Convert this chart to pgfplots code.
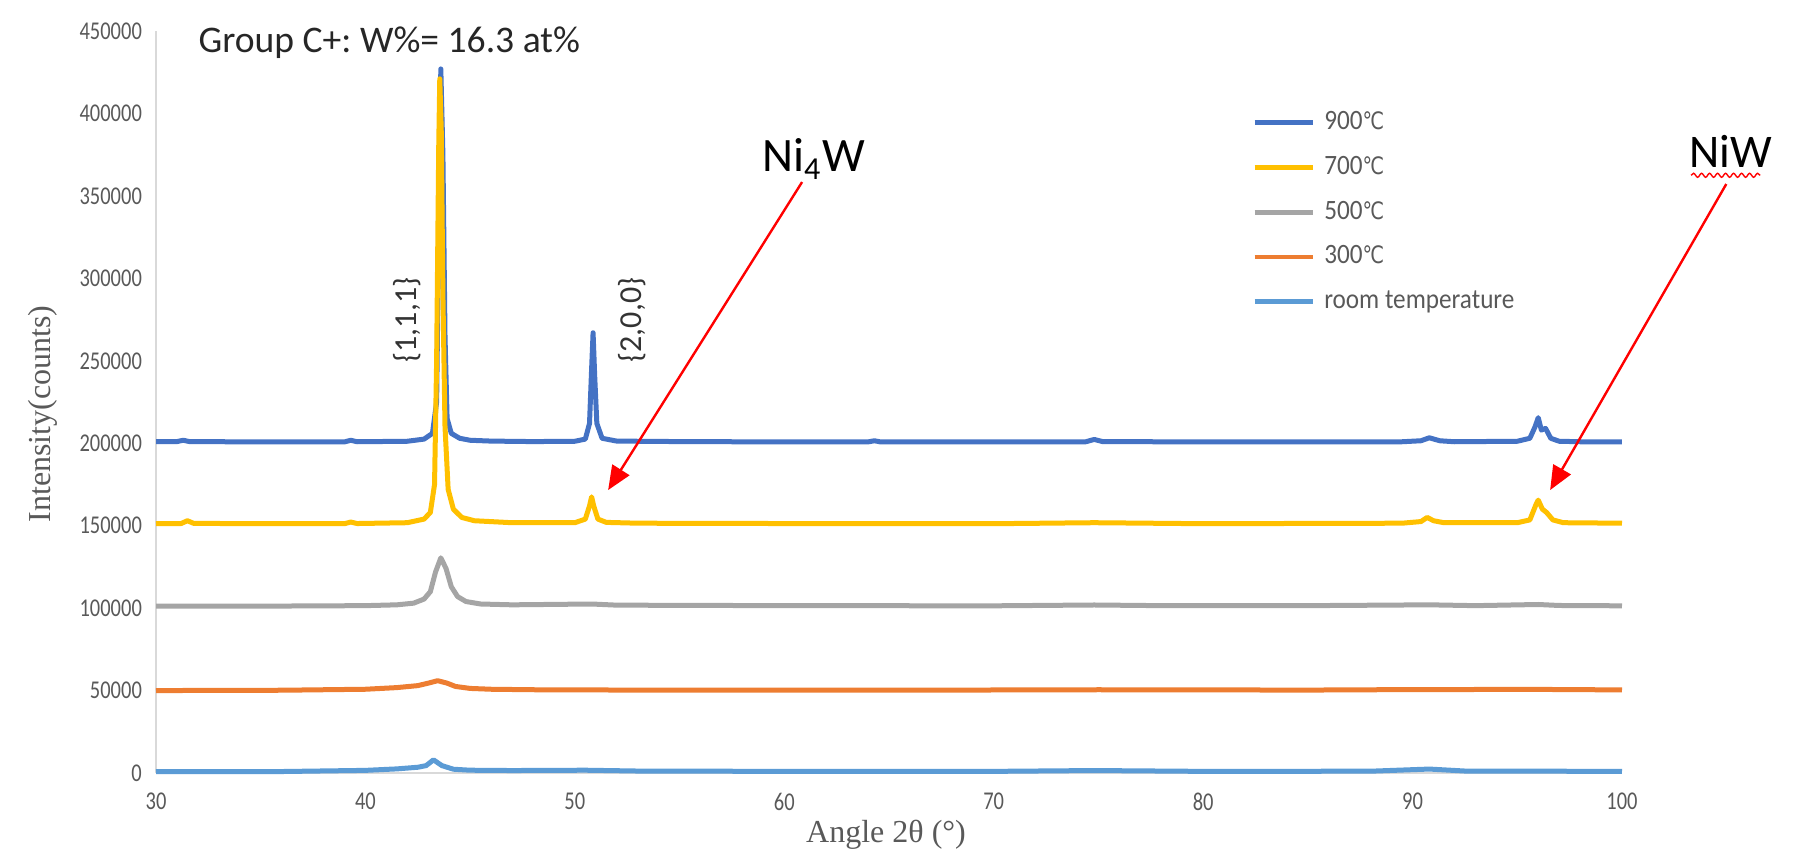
\documentclass[border=0pt]{standalone}
\usepackage{pgfplots}
\pgfplotsset{compat=1.18}
\usepackage{fontspec}
\setmainfont{Carlito}
\newfontfamily\seriffont{Liberation Serif}
\newfontfamily\tickfont[FakeStretch=0.8]{Carlito}
\newfontfamily\legfont[FakeStretch=0.9]{Carlito}
\newfontfamily\djv[FakeStretch=0.8]{DejaVu Sans}
\usetikzlibrary{arrows.meta,decorations.pathmorphing}
\definecolor{cNineH}{HTML}{4472C4}
\definecolor{cSevenH}{HTML}{FFC000}
\definecolor{cFiveH}{HTML}{A5A5A5}
\definecolor{cThreeH}{HTML}{ED7D31}
\definecolor{cRT}{HTML}{5B9BD5}
\definecolor{tickgray}{HTML}{595959}
\definecolor{axgray}{HTML}{D9D9D9}
\frenchspacing
\begin{document}
\begin{tikzpicture}
\useasboundingbox (-39pt,-18.75pt) rectangle (412.25pt,193.25pt);
\begin{axis}[
  scale only axis,
  width=366.5pt, height=185.5pt,
  xmin=30, xmax=100, ymin=0, ymax=450000,
  xtick={30,40,...,100},
  ytick={0,50000,...,450000},
  scaled y ticks=false,
  axis lines=left,
  axis line style={-, draw=axgray, line width=0.5pt},
  major tick length=0pt,
  clip=false,
  /pgf/number format/.cd, fixed, 1000 sep={}, assume math mode=true,
  /pgfplots/.cd,
  ticklabel style={font=\tickfont\fontsize{6.4}{7}\selectfont, text=tickgray},
  xticklabel style={yshift=-1.4pt},
  xlabel={\seriffont Angle 2θ (°)},
  ylabel={\seriffont Intensity(counts)},
  xlabel style={at={(axis description cs:0.498,-0.0836)}, anchor=center, font=\fontsize{8}{9}\selectfont, text=tickgray},
  ylabel style={at={(axis description cs:-0.0771,0.484)}, anchor=center, font=\fontsize{8}{9}\selectfont, text=tickgray},
  legend style={at={(axis description cs:0.739,0.906)}, anchor=north west, draw=none, fill=none,
    font=\legfont\fontsize{7}{8}\selectfont, text=tickgray, row sep=4.7pt,
    nodes={inner sep=0pt, text height=5pt, text depth=1.5pt}},
  legend cell align=left,
  legend image code/.code={\draw[#1, line width=1.2pt] (0pt,0pt) -- (14.5pt,0pt); \path (16.8pt,0pt);},
  every axis plot/.append style={line width=1.25pt, line join=round},
]
\addplot[cNineH, mark=none] coordinates {
(30,201000) (31.0,201000) (31.3,201800) (31.6,201000) (35,200800) (39.0,200800) (39.3,201800) (39.6,200900)
(42.0,201200) (42.8,202500) (43.2,206000) (43.4,225000) (43.5,330000) (43.6,427000) (43.7,375000) (43.8,265000)
(43.9,215000) (44.1,206000) (44.5,203000) (45.0,201800) (46,201300) (48,201000) (50.0,201200) (50.5,202500)
(50.7,212000) (50.8,245000) (50.87,267000) (50.95,240000) (51.05,212000) (51.3,203000) (52,201300) (55,201000)
(60,200800) (64.0,200800) (64.3,201500) (64.6,200800) (70,200800) (74.4,200900) (74.8,202300) (75.2,201000)
(80,200800) (85,200800) (89.5,200900) (90.4,201500) (90.8,203300) (91.3,201500) (92,200900) (95.0,201200)
(95.6,203000) (95.85,210000) (96.0,215500) (96.15,208000) (96.35,209000) (96.6,203000) (97.0,201200) (98,200900) (100,200900)
};
\addlegendentry{900{\djv\fontsize{6}{7}\selectfont ℃}}
\addplot[cSevenH, mark=none] coordinates {
(30,151200) (31.2,151300) (31.5,153000) (31.8,151400) (35,151200) (39.0,151200) (39.3,152200) (39.6,151300)
(42.0,151800) (42.8,154000) (43.1,158000) (43.3,175000) (43.4,250000) (43.5,380000) (43.55,421000) (43.62,390000) (43.7,290000)
(43.8,210000) (43.95,172000) (44.2,160000) (44.6,155000) (45.2,153000) (47,151800) (50.0,151800) (50.5,154000)
(50.7,162000) (50.8,167500) (50.9,162000) (51.1,154000) (51.5,152000) (53,151500) (60,151300) (70,151200)
(74.8,151800) (80,151200) (89.5,151500) (90.4,152500) (90.7,155000) (91.0,153000) (91.5,151800) (95.0,151800)
(95.6,153500) (95.9,163000) (96.0,165500) (96.2,160000) (96.4,158000) (96.7,153500) (97.2,151800) (100,151500)
};
\addlegendentry{700{\djv\fontsize{6}{7}\selectfont ℃}}
\addplot[cFiveH, mark=none] coordinates {
(30,101200) (35,101200) (40,101500) (41.5,102000) (42.3,103000) (42.8,105500) (43.1,110000) (43.35,122000)
(43.6,130500) (43.85,124000) (44.1,113000) (44.4,107000) (44.8,104000) (45.5,102500) (47,102000) (50.8,102500)
(52,101800) (60,101500) (70,101400) (74.8,101900) (78,101500) (85,101500) (90.8,102000) (93,101500)
(96.0,102200) (97,101600) (100,101400)
};
\addlegendentry{500{\djv\fontsize{6}{7}\selectfont ℃}}
\addplot[cThreeH, mark=none] coordinates {
(30,50000) (36,50200) (40,50800) (41.5,51800) (42.5,53000) (43.0,54500) (43.45,56000) (43.9,54500)
(44.3,52500) (45.0,51300) (46,50800) (48,50500) (55,50200) (65,50200) (75,50500) (85,50300)
(90,50600) (96,50700) (100,50400)
};
\addlegendentry{300{\djv\fontsize{6}{7}\selectfont ℃}}
\addplot[cRT, mark=none] coordinates {
(30,800) (36,900) (40,1600) (41.5,2500) (42.5,3500) (42.9,4500) (43.25,8000) (43.65,4500)
(44.2,2300) (45,1700) (47,1500) (50.5,1700) (53,1200) (60,1000) (70,1000) (74.8,1500)
(80,1000) (88,1100) (90.8,2400) (92.5,1200) (100,1000)
};
\addlegendentry{room temperature}

\node[anchor=west, inner sep=0pt, font=\fontsize{9.4}{11}\selectfont, text=black!85] at (axis cs:32.0,443000) {Group C+: W\%= 16.3 at\%};
\node[rotate=90, font=\fontsize{8}{9}\selectfont, text=black!80] at (axis cs:42.0,274700) {\{1,1,1\}};
\node[rotate=90, font=\fontsize{8}{9}\selectfont, text=black!80] at (axis cs:52.73,274700) {\{2,0,0\}};
\node[font=\fontsize{12}{14}\selectfont, text=black] at (axis cs:61.4,372400) {Ni\textsubscript{4}W};
\node[font=\fontsize{11.7}{14}\selectfont, text=black] at (axis cs:105.2,377000) {NiW};
\draw[red, line width=0.35pt, decorate, decoration={snake, amplitude=0.5pt, segment length=2pt}] (axis cs:103.3,362500) -- (axis cs:106.6,362500);
\draw[red, line width=0.6pt, -{Triangle[length=6pt,width=5pt]}] (axis cs:60.85,358400) -- (axis cs:51.59,171600);
\draw[red, line width=0.6pt, -{Triangle[length=6pt,width=5pt]}] (axis cs:104.98,357200) -- (axis cs:96.57,171600);
\end{axis}
\end{tikzpicture}
\end{document}
